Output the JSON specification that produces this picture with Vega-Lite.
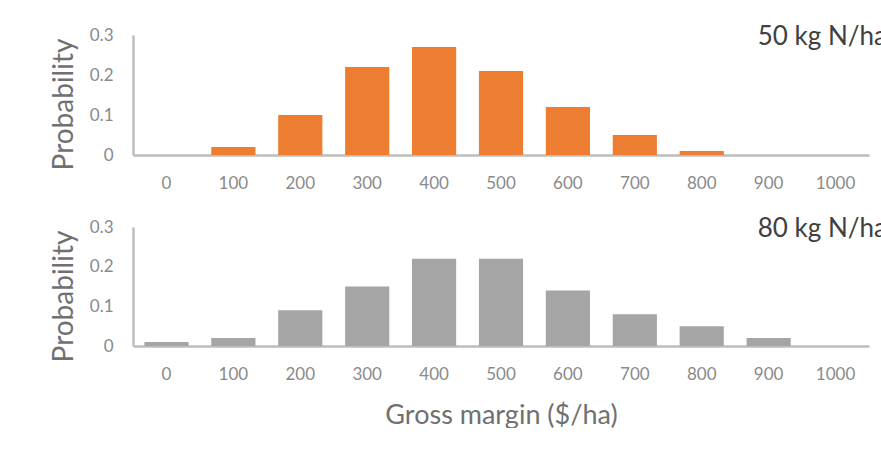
{
  "$schema": "https://vega.github.io/schema/vega-lite/v6.json",
  "padding": {"left": 50, "top": 24, "right": 0, "bottom": 0},
  "spacing": 25,
  "datasets": {
    "probs": [
      {"rate": "50 kg N/ha", "gm": 0, "p": 0},
      {"rate": "50 kg N/ha", "gm": 100, "p": 0.02},
      {"rate": "50 kg N/ha", "gm": 200, "p": 0.1},
      {"rate": "50 kg N/ha", "gm": 300, "p": 0.22},
      {"rate": "50 kg N/ha", "gm": 400, "p": 0.27},
      {"rate": "50 kg N/ha", "gm": 500, "p": 0.21},
      {"rate": "50 kg N/ha", "gm": 600, "p": 0.12},
      {"rate": "50 kg N/ha", "gm": 700, "p": 0.05},
      {"rate": "50 kg N/ha", "gm": 800, "p": 0.01},
      {"rate": "50 kg N/ha", "gm": 900, "p": 0},
      {"rate": "50 kg N/ha", "gm": 1000, "p": 0},
      {"rate": "80 kg N/ha", "gm": 0, "p": 0.01},
      {"rate": "80 kg N/ha", "gm": 100, "p": 0.02},
      {"rate": "80 kg N/ha", "gm": 200, "p": 0.09},
      {"rate": "80 kg N/ha", "gm": 300, "p": 0.15},
      {"rate": "80 kg N/ha", "gm": 400, "p": 0.22},
      {"rate": "80 kg N/ha", "gm": 500, "p": 0.22},
      {"rate": "80 kg N/ha", "gm": 600, "p": 0.14},
      {"rate": "80 kg N/ha", "gm": 700, "p": 0.08},
      {"rate": "80 kg N/ha", "gm": 800, "p": 0.05},
      {"rate": "80 kg N/ha", "gm": 900, "p": 0.02},
      {"rate": "80 kg N/ha", "gm": 1000, "p": 0}
    ]
  },
  "config": {
    "font": "Lato",
    "view": {"stroke": null},
    "axis": {
      "domainColor": "#bdbdbd",
      "domainWidth": 2.5,
      "ticks": false,
      "grid": false,
      "labelColor": "#8a8a8a",
      "labelFontSize": 17,
      "titleColor": "#707070",
      "titleFontSize": 27,
      "titleFontWeight": "normal"
    },
    "title": {"fontSize": 26, "fontWeight": "normal", "color": "#404040"}
  },
  "vconcat": [
    {
      "data": {"name": "probs"},
      "width": 736,
      "height": 120,
      "title": {"text": "50 kg N/ha", "anchor": "end", "frame": "group", "offset": -24, "dx": 18},
      "transform": [{"filter": "datum.rate == '50 kg N/ha'"}],
      "mark": {"type": "bar", "color": "#ED7D31"},
      "encoding": {
        "x": {"field": "gm", "type": "ordinal", "scale": {"paddingInner": 0.34, "paddingOuter": 0.17},
              "axis": {"title": null, "labelAngle": 0, "labelPadding": 20}},
        "y": {"field": "p", "type": "quantitative", "scale": {"domain": [0, 0.3]},
              "axis": {"title": "Probability", "titleFontSize": 28, "titleY": 69, "values": [0, 0.1, 0.2, 0.3], "format": ".1~f", "labelPadding": 20, "titlePadding": 11}}
      }
    },
    {
      "data": {"name": "probs"},
      "width": 736,
      "height": 119,
      "title": {"text": "80 kg N/ha", "anchor": "end", "frame": "group", "offset": -24, "dx": 18},
      "transform": [{"filter": "datum.rate == '80 kg N/ha'"}],
      "mark": {"type": "bar", "color": "#A5A5A5"},
      "encoding": {
        "x": {"field": "gm", "type": "ordinal", "scale": {"paddingInner": 0.34, "paddingOuter": 0.17},
              "axis": {"title": "Gross margin ($/ha)", "labelAngle": 0, "labelPadding": 20, "titlePadding": 20}},
        "y": {"field": "p", "type": "quantitative", "scale": {"domain": [0, 0.3]},
              "axis": {"title": "Probability", "titleFontSize": 28, "titleY": 69, "values": [0, 0.1, 0.2, 0.3], "format": ".1~f", "labelPadding": 20, "titlePadding": 11}}
      }
    }
  ]
}
